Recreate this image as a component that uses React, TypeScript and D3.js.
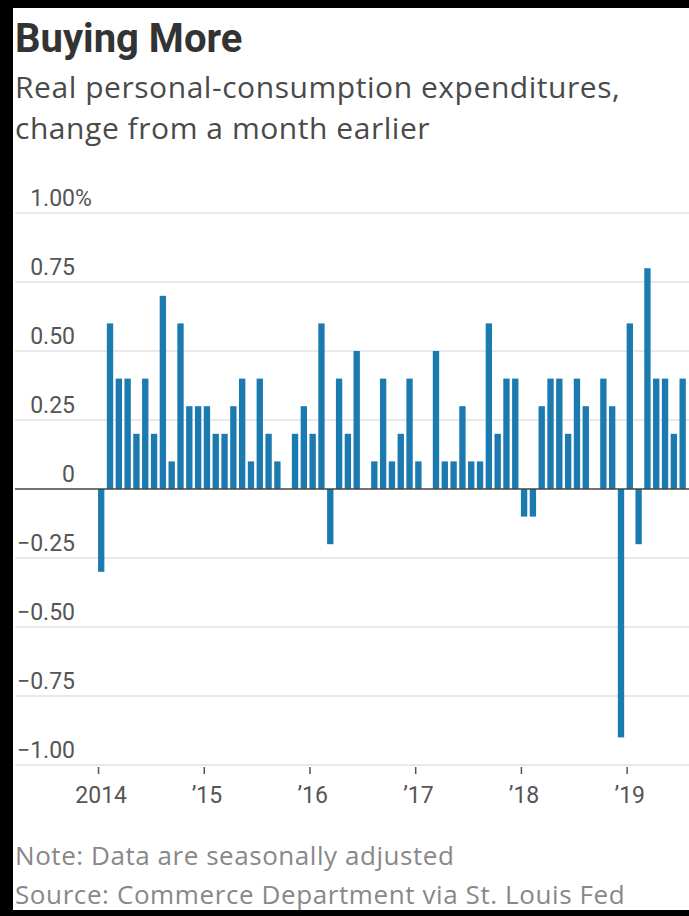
import * as d3 from "d3";

// monthly % change in real PCE, Jan 2014 – Jul 2019
const pce2014 = [-0.3, 0.6, 0.4, 0.4, 0.2, 0.4, 0.2, 0.7, 0.1, 0.6, 0.3, 0.3];
const pce2015 = [0.3, 0.2, 0.2, 0.3, 0.4, 0.1, 0.4, 0.2, 0.1, 0, 0.2, 0.3];
const pce2016 = [0.2, 0.6, -0.2, 0.4, 0.2, 0.5, 0, 0.1, 0.4, 0.1, 0.2, 0.4];
const pce2017 = [0.1, 0, 0.5, 0.1, 0.1, 0.3, 0.1, 0.1, 0.6, 0.2, 0.4, 0.4];
const pce2018 = [-0.1, -0.1, 0.3, 0.4, 0.4, 0.2, 0.4, 0.3, 0, 0.4, 0.3, -0.9];
const pce2019 = [0.6, -0.2, 0.8, 0.4, 0.4, 0.2, 0.4];

const yearLabels = ["2014", "\u201915", "\u201916", "\u201917", "\u201918", "\u201919"];
const yTicks = [1, 0.75, 0.5, 0.25, 0, -0.25, -0.5, -0.75, -1];

const values = [
  ...pce2014,
  ...pce2015,
  ...pce2016,
  ...pce2017,
  ...pce2018,
  ...pce2019,
];

const font = "Roboto, 'Open Sans', sans-serif";
const textFont = "'Open Sans', Roboto, sans-serif";

export default function App() {
  const width = 689;
  const height = 916;
  const step = 8.81;

  const x = d3
    .scaleBand<number>()
    .domain(d3.range(values.length))
    .range([96.8, 96.8 + values.length * step])
    .paddingInner(0.28)
    .paddingOuter(0.14);

  const y = d3.scaleLinear().domain([-1, 1]).range([765, 213]);

  const fmt = (t: number) => (t === 0 ? "0" : d3.format(".2f")(t));

  return (
    <div style={{ position: "absolute", left: 0, top: 0 }}>
      <svg width={width} height={height} style={{ display: "block", background: "#fff" }}>
        {/* frame */}
        <rect x={0} y={0} width={width} height={8} fill="#000" />
        <rect x={0} y={0} width={13} height={height} fill="#000" />
        <rect x={0} y={height - 6} width={width} height={6} fill="#000" />

        <text x={15} y={52} fontFamily={font} fontSize={40} fontWeight={700} fill="#333">
          Buying More
        </text>
        <text x={15} y={98} fontFamily={textFont} fontSize={30} letterSpacing={0.55} fill="#4a4a4a">
          Real personal-consumption expenditures,
        </text>
        <text x={15} y={139} fontFamily={textFont} fontSize={30} letterSpacing={0.55} fill="#4a4a4a">
          change from a month earlier
        </text>

        {/* gridlines + y labels */}
        {yTicks.map((t) => (
          <g key={t}>
            {t !== 0 && (
              <line x1={15} x2={width} y1={y(t)} y2={y(t)} stroke="#e2e2e2" strokeWidth={1.5} />
            )}
            <text
              x={75}
              y={y(t) - 7}
              textAnchor="end"
              fontFamily={font}
              fontSize={23}
              fill="#555"
            >
              {fmt(t)}
            </text>
            {t === 1 && (
              <text x={75} y={y(t) - 7} fontFamily={font} fontSize={23} fill="#555">
                %
              </text>
            )}
          </g>
        ))}

        {/* bars */}
        {values.map((v, i) => (
          <rect
            key={i}
            x={x(i)}
            y={y(Math.max(0, v))}
            width={x.bandwidth()}
            height={Math.abs(y(v) - y(0))}
            fill="#1b7bb0"
          />
        ))}

        <line x1={15} x2={width} y1={y(0)} y2={y(0)} stroke="#444" strokeWidth={1.5} />

        {/* x axis */}
        {yearLabels.map((label, k) => {
          const xi = (x(k * 12) as number) + 0.5;
          return (
            <g key={label}>
              <line x1={xi} x2={xi} y1={767} y2={774} stroke="#555" strokeWidth={1.5} />
              <text
                x={xi + x.bandwidth() / 2 - 0.5}
                y={803}
                textAnchor="middle"
                fontFamily={font}
                fontSize={23}
                fill="#555"
              >
                {label}
              </text>
            </g>
          );
        })}

        <text x={15} y={865} fontFamily={textFont} fontSize={26} letterSpacing={0.55} fill="#888">
          Note: Data are seasonally adjusted
        </text>
        <text x={15} y={904} fontFamily={textFont} fontSize={26} letterSpacing={0.6} fill="#888">
          Source: Commerce Department via St. Louis Fed
        </text>
      </svg>
    </div>
  );
}
